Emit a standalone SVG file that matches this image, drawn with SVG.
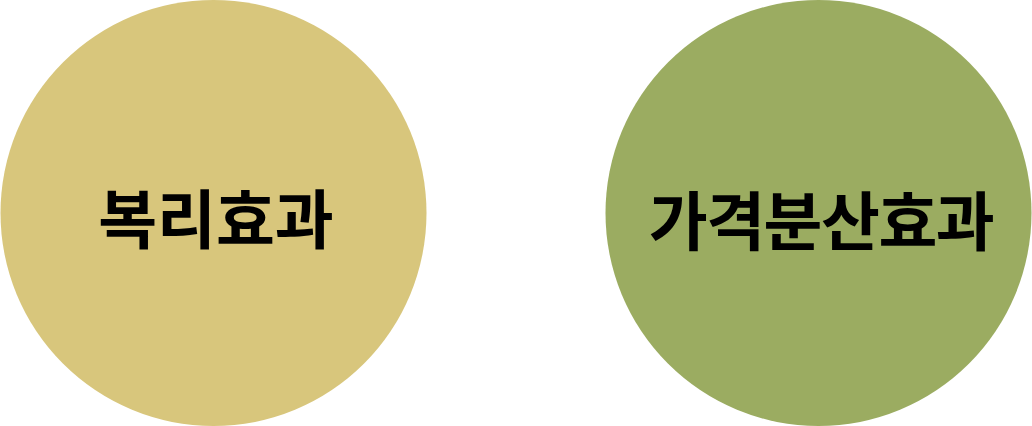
<svg xmlns="http://www.w3.org/2000/svg" width="1032" height="426" viewBox="0 0 1032 426">
<style>
.lbl{font-family:"Noto Sans CJK KR","Noto Sans",sans-serif;font-weight:700;font-size:64px;fill:#000;text-anchor:middle;dominant-baseline:central}
</style>
<rect width="1032" height="426" fill="#fff"/>
<g id="node-compound">
<circle cx="213.5" cy="213" r="213" fill="#D8C67C"/>
<text class="lbl" x="216" y="215">복리효과</text>
</g>
<g id="node-price">
<circle cx="818.5" cy="213" r="213" fill="#9BAC61"/>
<text class="lbl" x="821" y="217" letter-spacing="-1.5">가격분산효과</text>
</g>
<g id="connectors"/>
</svg>
